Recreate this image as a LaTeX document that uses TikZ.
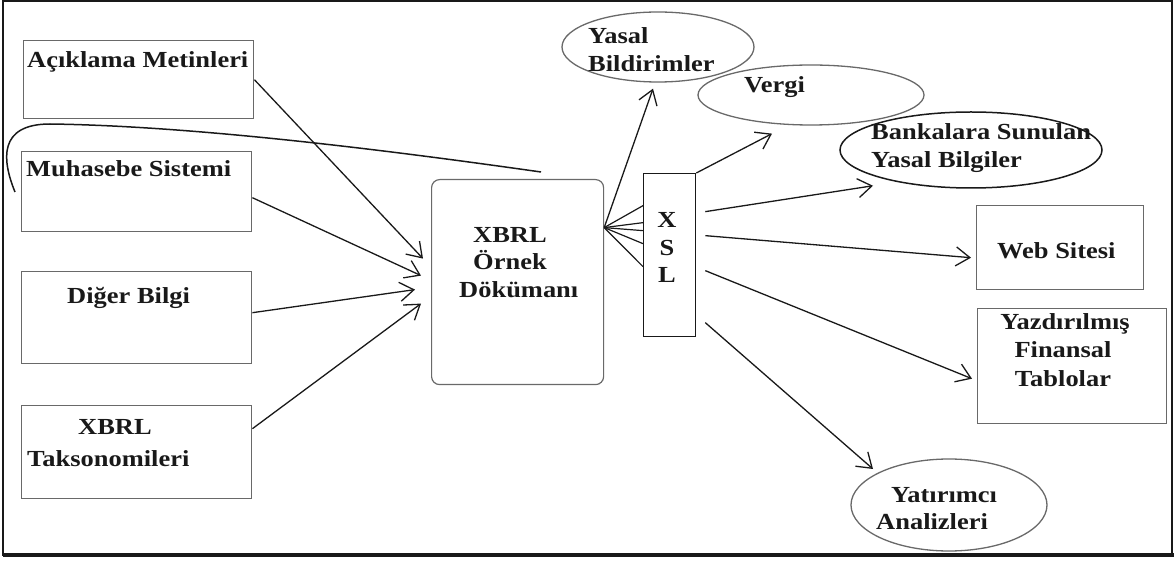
\documentclass[tikz,border=0pt]{standalone}
\usepackage{fontspec}
\setmainfont{Liberation Serif}
\usetikzlibrary{shapes.geometric,arrows.meta}
\newcommand\lblfont{\fontsize{23}{28}\selectfont\bfseries}
\definecolor{edgegray}{RGB}{105,105,105}
\definecolor{ink}{RGB}{25,25,25}
\tikzset{
  box/.style={draw=edgegray, line width=1.4pt, rectangle, inner sep=0pt, anchor=north west},
  doc/.style={draw=edgegray, line width=1.2pt, rectangle, rounded corners=8pt, inner sep=0pt, anchor=north west},
  oval/.style={draw=edgegray, line width=1.3pt, ellipse, fill=white, inner sep=0pt},
  lbl/.style={font=\lblfont, inner sep=0pt, xscale=1.15, text=ink},
  arr/.style={draw=ink, line width=1.3pt, -{Straight Barb[length=14pt,width=19pt]}},
  fan/.style={draw=ink, line width=1.2pt},
}
\begin{document}
\begin{tikzpicture}[x=1pt,y=-1pt]
\useasboundingbox (0,0) rectangle (1176,561);
% outer frame
\draw[ink, line width=1.6pt] (3,1) rectangle (1172,555);
\draw[ink, line width=4pt] (3,555) -- (1174,555);

% source boxes
\node[box, minimum width=230pt, minimum height=78pt] (acik) at (23,40) {};
\node[box, minimum width=230pt, minimum height=80pt] (muh)  at (21,151) {};
\node[box, minimum width=230pt, minimum height=92pt] (diger) at (21,271) {};
\node[box, minimum width=230pt, minimum height=93pt] (taks) at (21,405) {};

% instance document and XSL
\node[doc, minimum width=172pt, minimum height=205pt] (xbrl) at (431,179) {};
\node[box, draw=ink, line width=1.3pt, minimum width=52pt, minimum height=163pt] (xsl) at (643,173) {};

% outputs
\node[oval, minimum width=192pt, minimum height=70pt] (yasal) at (658,47) {};
\node[oval, minimum width=226pt, minimum height=60pt] (vergi) at (811,95) {};
\node[oval, draw=ink, line width=1.5pt, minimum width=262pt, minimum height=76pt] (banka) at (971,150) {};
\node[box, minimum width=167pt, minimum height=84pt] (web) at (976,205) {};
\node[box, minimum width=189pt, minimum height=115pt] (yazd) at (977,308) {};
\node[oval, minimum width=196pt, minimum height=92pt] (yat) at (949,505) {};

% feedback curve over the source boxes
\coordinate (fbA) at (15,192);
\coordinate (fbM) at (50,124);
\coordinate (fbB) at (541,172);
\draw[ink, line width=1.5pt] (fbA) .. controls (2,160) and (-2,124) .. (fbM)
  .. controls (200,126) and (400,152) .. (fbB);

% sources into the instance document
\draw[arr] (acik.east) -- ([xshift=-8pt,yshift=23.5pt]xbrl.west);
\draw[arr] ([yshift=-6pt]muh.east) -- ([xshift=-10pt,yshift=6.5pt]xbrl.west);
\draw[arr] ([yshift=5pt]diger.east) -- ([xshift=-16pt,yshift=-7.5pt]xbrl.west);
\draw[arr] ([yshift=23.5pt]taks.east) -- ([xshift=-10pt,yshift=-21.5pt]xbrl.west);

% fan from the document to the XSL
\coordinate (hub) at ([yshift=54.5pt]xbrl.east);
\draw[fan] (hub) -- ([yshift=49.5pt]xsl.west);
\draw[fan] (hub) -- ([yshift=32.5pt]xsl.west);
\draw[fan] (hub) -- ([yshift=24.5pt]xsl.west);
\draw[fan] (hub) -- ([yshift=11.5pt]xsl.west);
\draw[fan] (hub) -- ([yshift=-11.5pt]xsl.west);
\draw[arr] (hub) -- ([xshift=-5pt,yshift=-6pt]yasal.south);

% XSL outputs
\draw[arr] (xsl.north east) -- ([xshift=-39pt,yshift=-8pt]vergi.south);
\draw[arr] ([xshift=9pt,yshift=43.5pt]xsl.east) -- ([xshift=-98pt,yshift=3pt]banka.south);
\draw[arr] ([xshift=9pt,yshift=19.5pt]xsl.east) -- ([xshift=-5pt,yshift=-10pt]web.west);
\draw[arr] ([xshift=9pt,yshift=-15.5pt]xsl.east) -- ([xshift=-5pt,yshift=-12.5pt]yazd.west);
\draw[arr] ([xshift=9pt,yshift=-67.5pt]xsl.east) -- ([xshift=-76pt,yshift=36pt]yat.center);

% labels
\node[lbl, anchor=base west] at (27,68) {Açıklama Metinleri};
\node[lbl, anchor=base west] at (26,177) {Muhasebe Sistemi};
\node[lbl, anchor=base west] at (67,304) {Diğer Bilgi};
\node[lbl, anchor=base west] at (78,434) {XBRL};
\node[lbl, anchor=base west] at (27,466) {Taksonomileri};

\node[lbl, anchor=base west] at (473,243) {XBRL};
\node[lbl, anchor=base west] at (473,270) {Örnek};
\node[lbl, anchor=base west] at (459,298) {Dökümanı};

\node[lbl, anchor=base] at (667,228) {X};
\node[lbl, anchor=base] at (667,256) {S};
\node[lbl, anchor=base] at (667,283) {L};

\node[lbl, anchor=base west] at (588,44) {Yasal};
\node[lbl, anchor=base west] at (588,72) {Bildirimler};
\node[lbl, anchor=base west] at (744,93) {Vergi};
\node[lbl, anchor=base west] at (871,140) {Bankalara Sunulan};
\node[lbl, anchor=base west] at (871,168) {Yasal Bilgiler};
\node[lbl, anchor=base west] at (997,259) {Web Sitesi};
\node[lbl, anchor=base] at (1065,330) {Yazdırılmış};
\node[lbl, anchor=base] at (1063,358) {Finansal};
\node[lbl, anchor=base] at (1063,387) {Tablolar};
\node[lbl, anchor=base west] at (891,502) {Yatırımcı};
\node[lbl, anchor=base west] at (876,529) {Analizleri};
\end{tikzpicture}
\end{document}
